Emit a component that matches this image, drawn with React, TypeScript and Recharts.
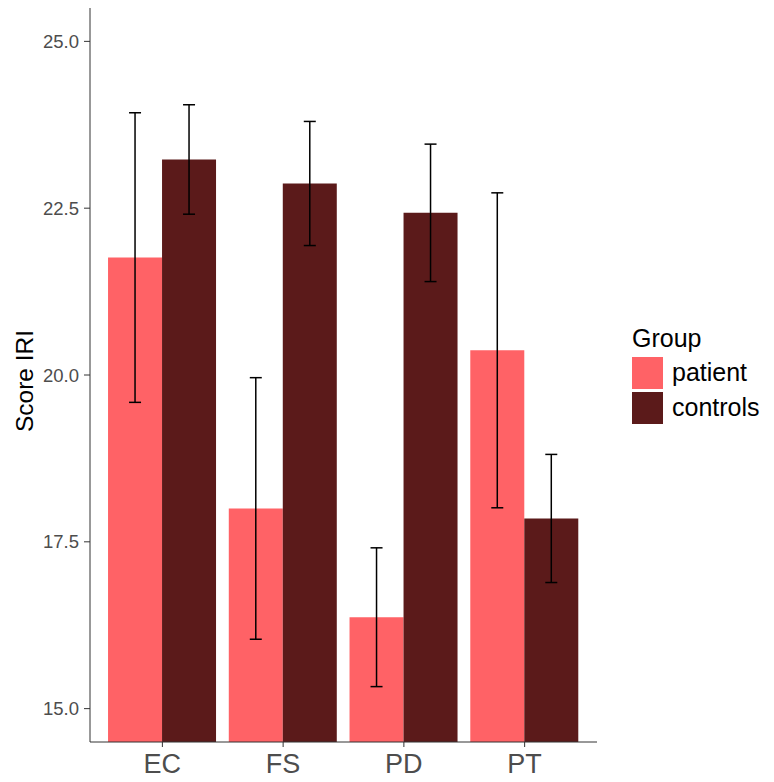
import React from "react";
import { BarChart, Bar, XAxis, YAxis, ErrorBar } from "recharts";

const categories = ["EC", "FS", "PD", "PT"];
const patientMeans = [21.76, 18.0, 16.37, 20.37];
const patientErr = [2.17, 1.96, 1.04, 2.36];
const controlMeans = [23.23, 22.87, 22.43, 17.85];
const controlErr = [0.82, 0.93, 1.03, 0.96];
const yTicks = [15, 17.5, 20, 22.5, 25];

const PATIENT_COLOR = "#FF6266";
const CONTROL_COLOR = "#5B1A1A";
const FONT = "'Liberation Sans', Arial, sans-serif";

const data = categories.map((c, i) => ({
  scale: c,
  patient: patientMeans[i],
  patientErr: patientErr[i],
  controls: controlMeans[i],
  controlsErr: controlErr[i],
}));

const groups = [
  { name: "patient", color: PATIENT_COLOR },
  { name: "controls", color: CONTROL_COLOR },
];

const GroupLegend = () => (
  <div
    style={{
      position: "absolute",
      left: 632,
      top: 324,
      fontFamily: FONT,
      color: "#000",
    }}
  >
    <div style={{ fontSize: 25, lineHeight: "28px", marginBottom: 3 }}>Group</div>
    {groups.map((g) => (
      <div
        key={g.name}
        style={{ display: "flex", alignItems: "center", height: 35 }}
      >
        <div
          style={{
            width: 31,
            height: 32,
            background: g.color,
            marginRight: 9,
          }}
        />
        <span style={{ fontSize: 25 }}>{g.name}</span>
      </div>
    ))}
  </div>
);

export default function App() {
  return (
    <div
      style={{
        position: "absolute",
        left: 0,
        top: 0,
        width: 774,
        height: 782,
        background: "#fff",
      }}
    >
      <BarChart
        width={774}
        height={782}
        data={data}
        margin={{ top: 8, right: 177, bottom: 10, left: 30 }}
        barCategoryGap="5%"
        barGap={0}
      >
        <XAxis
          dataKey="scale"
          height={30}
          padding={{ left: 12, right: 12 }}
          tickSize={5}
          tickMargin={7}
          stroke="#333"
          tick={{ fill: "#4D4D4D", fontSize: 27, fontFamily: FONT }}
        />
        <YAxis
          width={60}
          domain={[14.5, 25.5]}
          allowDataOverflow
          ticks={yTicks}
          tickFormatter={(v: number) => v.toFixed(1)}
          tickSize={6}
          tickMargin={5}
          stroke="#333"
          tick={{ fill: "#4D4D4D", fontSize: 18.5, fontFamily: FONT }}
          label={{
            content: () => (
              <text
                x={33}
                y={381}
                transform="rotate(-90 33 381)"
                textAnchor="middle"
                fontSize={24.5}
                fontFamily={FONT}
                fill="#000"
              >
                Score IRI
              </text>
            ),
          }}
        />
        <Bar dataKey="patient" fill={PATIENT_COLOR} isAnimationActive={false}>
          <ErrorBar
            dataKey="patientErr"
            width={6}
            stroke="#000"
            strokeWidth={1.5}
            direction="y"
            isAnimationActive={false}
          />
        </Bar>
        <Bar dataKey="controls" fill={CONTROL_COLOR} isAnimationActive={false}>
          <ErrorBar
            dataKey="controlsErr"
            width={6}
            stroke="#000"
            strokeWidth={1.5}
            direction="y"
            isAnimationActive={false}
          />
        </Bar>
      </BarChart>
      <GroupLegend />
    </div>
  );
}
